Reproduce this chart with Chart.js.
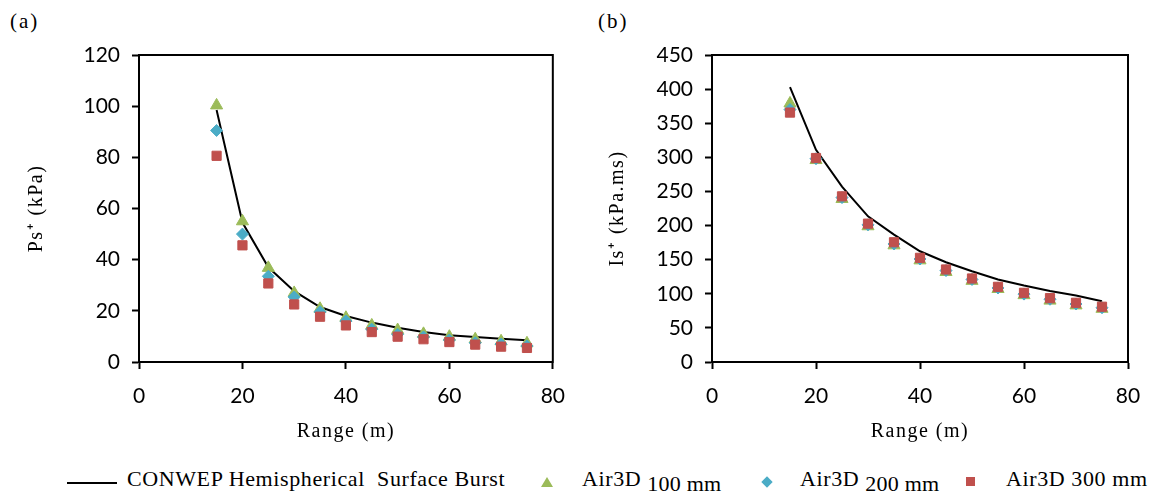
<!DOCTYPE html>
<html>
<head>
<meta charset="utf-8">
<script src="https://cdn.jsdelivr.net/npm/chart.js@4"></script>
<style>
  body { margin: 0; background: #fff; width: 1161px; height: 495px; position: relative; overflow: hidden; }
  .box { position: absolute; top: 0; height: 450px; }
  .tag { position: absolute; top: 9px; font: 21px "Liberation Serif", serif; letter-spacing: 2px; }
  #legend { position: absolute; left: 0; top: 465px; width: 1161px; height: 30px; font: 22px "Liberation Serif", serif; letter-spacing: 0.6px; }
  #legend .item { position: absolute; white-space: nowrap; top: 1px; }
  .sub { position: relative; top: 5px; letter-spacing: 0.2px; }
  .mk { position: absolute; }
</style>
</head>
<body>
<div class="tag" style="left:10px">(a)</div>
<div class="tag" style="left:598px">(b)</div>
<div class="box" style="left:0;width:580px"><canvas id="chartA"></canvas></div>
<div class="box" style="left:580px;width:581px"><canvas id="chartB"></canvas></div>
<div id="legend">
  <div class="mk" style="left:67px;top:17px;width:50px;height:2px;background:#000"></div>
  <span class="item" style="left:127px">CONWEP Hemispherical&nbsp; Surface Burst</span>
  <div class="mk" style="left:541px;top:12px;width:0;height:0;border-left:6px solid transparent;border-right:6px solid transparent;border-bottom:10px solid #9BBB59"></div>
  <span class="item" style="left:582px">Air3D <span class="sub">100 mm</span></span>
  <div class="mk" style="left:763px;top:13px;width:8px;height:8px;background:#4BACC6;transform:rotate(45deg)"></div>
  <span class="item" style="left:800px">Air3D <span class="sub">200 mm</span></span>
  <div class="mk" style="left:966px;top:12px;width:9px;height:9px;background:#C0504D"></div>
  <span class="item" style="left:1006px">Air3D 300 mm</span>
</div>
<script>
// range (m)
const range = [15, 20, 25, 30, 35, 40, 45, 50, 55, 60, 65, 70, 75];

// (a) peak overpressure, kPa
const psConwep = [98.5, 54.5, 37, 27.7, 21.5, 18, 15.4, 13.4, 11.7, 10.5, 9.8, 9.1, 8.5];
const ps100 = [100.3, 55, 36.8, 27, 20.8, 17.3, 14.3, 12.5, 11, 9.9, 8.9, 8.1, 7.3];
const ps200 = [90.5, 50, 33.5, 25.4, 19.6, 16, 12.8, 10.8, 9.8, 8.6, 7.5, 7, 6.3];
const ps300 = [80.6, 45.6, 30.7, 22.5, 17.7, 14.3, 11.7, 9.9, 8.9, 7.8, 6.8, 6, 5.5];

// (b) positive impulse, kPa.ms
const isConwep = [403, 311, 257, 213.5, 186.8, 162.3, 146.2, 133, 121, 112, 104, 97.5, 89];
const is100 = [379, 296, 239, 199, 171, 149, 132, 119, 107, 98, 90, 83, 78];
const is200 = [370, 298, 241, 201, 173, 151, 134, 121, 108.5, 99.5, 92, 85, 79.5];
const is300 = [365.6, 299, 242.8, 202.8, 175.5, 152.7, 135.6, 122.4, 110.2, 101.4, 93.6, 86.8, 81];

const xTicks = [0, 20, 40, 60, 80];
const psTicks = [0, 20, 40, 60, 80, 100, 120];
const isTicks = [0, 50, 100, 150, 200, 250, 300, 350, 400, 450];

const tickFont = { family: "Lato", size: 21 };
const titleFont = { family: "Liberation Serif", size: 20 };

function pts(ys) {
  return range.map((x, i) => ({ x: x, y: ys[i] }));
}

// draws the top and right sides of the plot box
const frame = {
  id: "frame",
  afterDraw(chart) {
    const a = chart.chartArea;
    const ctx = chart.ctx;
    ctx.save();
    ctx.strokeStyle = "#000";
    ctx.lineWidth = 2;
    ctx.strokeRect(a.left, a.top, a.right - a.left, a.bottom - a.top);
    ctx.restore();
  },
};

// axis titles in the original are spaced out a little
function spaceTitle(scale) {
  const orig = scale.drawTitle;
  scale.drawTitle = function () {
    const ctx = this.ctx;
    ctx.save();
    ctx.letterSpacing = "1.5px";
    orig.call(this);
    ctx.restore();
  };
}

function makeChart(id, lineData, d100, d200, d300, yTicks, yMax, yTitle, yWidth, rightPad, yTitlePad) {
  const ctx = document.getElementById(id);
  const chart = new Chart(ctx, {
    type: "scatter",
    data: {
      datasets: [
        {
          label: "CONWEP Hemispherical Surface Burst",
          data: pts(lineData),
          showLine: true,
          borderColor: "#000",
          borderWidth: 2,
          pointRadius: 0,
          tension: 0,
          order: 3,
        },
        {
          label: "Air3D 100 mm",
          data: pts(d100),
          pointStyle: "triangle",
          pointRadius: 7,
          backgroundColor: "#9BBB59",
          borderColor: "#9BBB59",
          borderWidth: 1,
          order: 2,
        },
        {
          label: "Air3D 200 mm",
          data: pts(d200),
          pointStyle: "rectRot",
          pointRadius: 6,
          backgroundColor: "#4BACC6",
          borderColor: "#4BACC6",
          borderWidth: 1,
          order: 1,
        },
        {
          label: "Air3D 300 mm",
          data: pts(d300),
          pointStyle: "rect",
          pointRadius: 6.5,
          backgroundColor: "#C0504D",
          borderColor: "#C0504D",
          borderWidth: 1,
          order: 0,
        },
      ],
    },
    options: {
      responsive: false,
      animation: false,
      events: [],
      layout: { padding: { top: 55, right: rightPad, left: 0, bottom: 0 } },
      plugins: { legend: { display: false }, tooltip: { enabled: false } },
      scales: {
        x: {
          type: "linear",
          min: 0,
          max: 80,
          afterBuildTicks: (s) => { s.ticks = xTicks.map((v) => ({ value: v })); },
          afterFit: (s) => { s.height = 88; },
          grid: { drawOnChartArea: false, color: "#000", tickLength: 7, tickWidth: 2 },
          border: { color: "#000", width: 2 },
          ticks: { color: "#000", font: tickFont, padding: 15, maxRotation: 0 },
          title: { display: true, text: "Range (m)", color: "#000", font: titleFont, padding: { bottom: 6 } },
        },
        y: {
          min: 0,
          max: yMax,
          afterBuildTicks: (s) => { s.ticks = yTicks.map((v) => ({ value: v })); },
          afterFit: (s) => { s.width = yWidth; },
          grid: { drawOnChartArea: false, color: "#000", tickLength: 7, tickWidth: 2 },
          border: { color: "#000", width: 2 },
          ticks: { color: "#000", font: tickFont, padding: 12 },
          title: { display: true, text: yTitle, color: "#000", font: titleFont, padding: { top: yTitlePad } },
        },
      },
    },
    plugins: [frame],
  });
  spaceTitle(chart.scales.x);
  spaceTitle(chart.scales.y);
  chart.draw();
  return chart;
}

document.getElementById("chartA").width = 580;
document.getElementById("chartA").height = 450;
document.getElementById("chartB").width = 581;
document.getElementById("chartB").height = 450;

makeChart("chartA", psConwep, ps100, ps200, ps300, psTicks, 120, "Ps\u207A (kPa)", 139, 27, 25);
makeChart("chartB", isConwep, is100, is200, is300, isTicks, 450, "Is\u207A (kPa.ms)", 132, 33, 26);
</script>
</body>
</html>
